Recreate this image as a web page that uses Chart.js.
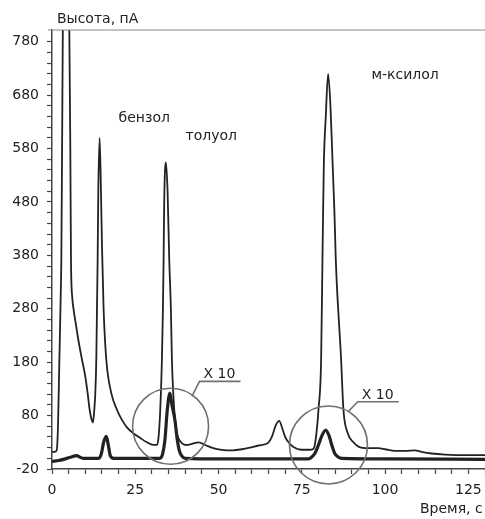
<!DOCTYPE html>
<html>
<head>
<meta charset="utf-8">
<script src="https://cdn.jsdelivr.net/npm/chart.js@4/dist/chart.umd.min.js"></script>
<style>
  html, body { margin: 0; padding: 0; background: #fff; }
  #wrap { width: 485px; height: 519px; position: relative; }
</style>
</head>
<body>
<div id="wrap"><canvas id="chrom"></canvas></div>
<script>
/* ---- data ---- */

// upper trace (normal sensitivity), time in s, signal in pA
const upperTime = [
  0, 0.8, 1.4, 1.8, 2.2, 2.6, 2.8, 3.0, 3.3, 3.8, 4.3, 4.8, 5.2, 5.5, 5.7, 6.1, 6.5, 7.2, 7.9, 9.0,
  10.0, 10.7, 11.3, 11.9, 12.3, 12.7, 13.0, 13.3, 13.5, 13.7, 13.9, 14.3, 14.7, 15.0, 15.5, 16.3, 17.8, 19.5,
  21.0, 22.5, 24.4, 26.5, 28.5, 30.4, 31.5, 32.0, 32.5, 33.0, 33.3, 33.5, 33.7, 34.2, 34.7, 35.2, 35.7, 36.0,
  36.7, 37.5, 38.5, 40.4, 42.0, 44.0, 46.0, 48.4, 51.0, 54.4, 57.0, 59.4, 62.0, 64.9, 66.0, 67.2, 68.2, 69.2,
  70.0, 70.9, 72.5, 74.9, 77.4, 78.5, 78.8, 79.4, 80.0, 80.8, 81.2, 81.6, 82.2, 82.9, 83.6, 84.2, 84.8, 85.2,
  86.8, 87.5, 88.8, 90.5, 92.0, 95.0, 98.0, 100.0, 103.0, 106.0, 109.0, 111.0, 114.0, 118.0, 125.0, 130.0
];
const upperSignal = [
  12, 12, 15, 60, 180, 300, 372, 550, 850, 1100, 1150, 1000, 800, 580, 372, 300, 278, 250, 222, 185,
  153, 122, 91, 72, 67, 91, 122, 185, 278, 372, 500, 600, 500, 400, 278, 185, 122, 91,
  72, 58, 47, 38, 30, 25, 25, 40, 91, 185, 278, 372, 485, 554, 500, 372, 278, 185,
  91, 47, 32, 25, 27, 30, 25, 19, 16, 15, 17, 20, 24, 29, 40, 62, 70, 55,
  40, 31, 21, 16, 16, 18, 22, 47, 91, 185, 372, 547, 640, 720, 660, 560, 460, 372,
  185, 91, 47, 30, 22, 19, 19, 17, 14, 14, 15, 12, 9, 7, 6, 6
];

// lower trace (x10 sensitivity)
const lowerTime = [
  0, 2, 4, 6, 7.4, 8.5, 9.5, 12.4, 14.0, 14.8, 15.5, 16.3, 16.9, 17.5, 18.5, 24, 32.4, 33.2, 33.9, 34.6,
  35.4, 36.0, 36.9, 37.5, 38.2, 38.9, 40, 50, 60, 77.0, 77.9, 79.0, 80.0, 81.0, 82.2, 83.2, 84.0, 84.9,
  86.0, 87.0, 100, 130
];
const lowerSignal = [
  -6, -4, -1, 3, 5, 2, 0, 0, 0, 8, 30, 41, 25, 5, 0, 0, 0, 8, 34, 90,
  122, 100, 72, 40, 15, 5, 0, -1, -1, -1, 2, 10, 25, 42, 53, 42, 25, 9,
  2, 0, -1, -2
];

const xTickLabels = [0, 25, 50, 75, 100, 125];
const yTickLabels = [-20, 80, 180, 280, 380, 480, 580, 680, 780];
const peakNames = ['бензол', 'толуол', 'м-ксилол'];
const gainLabel = 'X 10';

const FONT = 'DejaVu Sans';
const INK = '#222';
const AXIS = '#444';
const MARK = '#707070';

/* ---- annotation placement (data coords) ---- */
const peakLabelPos = [[27.7, 636], [47.8, 602], [106, 718]];
const circlePos = [[35.6, 60, 38], [83, 25, 39]];          // x, y, radius px
const gainPos = [
  { x: 44.3, y: 144, len: 41, tx: 42.0, ty: 116 },
  { x: 91.8, y: 106, len: 41, tx: 89.0, ty: 88 }
];

const toPoints = (xs, ys) => xs.map((x, i) => ({ x, y: ys[i] }));

const decorations = {
  id: 'decorations',
  afterDatasetsDraw(chart) {
    const { ctx, chartArea, scales: { x, y } } = chart;
    ctx.save();

    // top frame line
    ctx.strokeStyle = '#8a8a8a';
    ctx.lineWidth = 1.2;
    ctx.beginPath();
    ctx.moveTo(chartArea.left - 4, chartArea.top);
    ctx.lineTo(chartArea.right, chartArea.top);
    ctx.stroke();

    // circles around x10 peaks
    ctx.strokeStyle = MARK;
    ctx.lineWidth = 1.6;
    circlePos.forEach(([cx, cy, r]) => {
      ctx.beginPath();
      ctx.arc(x.getPixelForValue(cx), y.getPixelForValue(cy), r, 0, Math.PI * 2);
      ctx.stroke();
    });

    // "X 10" callouts
    ctx.font = `14px "${FONT}"`;
    ctx.textBaseline = 'alphabetic';
    ctx.textAlign = 'left';
    gainPos.forEach(g => {
      const px = x.getPixelForValue(g.x), py = y.getPixelForValue(g.y);
      ctx.strokeStyle = MARK;
      ctx.beginPath();
      ctx.moveTo(x.getPixelForValue(g.tx), y.getPixelForValue(g.ty));
      ctx.lineTo(px, py);
      ctx.lineTo(px + g.len, py);
      ctx.stroke();
      ctx.fillStyle = INK;
      ctx.fillText(gainLabel, px + 4, py - 3);
    });

    // peak names
    ctx.textAlign = 'center';
    ctx.textBaseline = 'middle';
    peakNames.forEach((name, i) => {
      const [lx, ly] = peakLabelPos[i];
      ctx.fillText(name, x.getPixelForValue(lx), y.getPixelForValue(ly));
    });

    // axis titles
    ctx.textAlign = 'left';
    ctx.textBaseline = 'alphabetic';
    ctx.fillText('Высота, пА', 57, 23);
    ctx.fillText('Время, с', 420, 513);

    ctx.restore();
  }
};

new Chart(document.getElementById('chrom'), {
  type: 'line',
  data: {
    datasets: [
      {
        data: toPoints(upperTime, upperSignal),
        borderColor: INK,
        borderWidth: 1.8,
        pointRadius: 0,
        cubicInterpolationMode: 'monotone'
      },
      {
        data: toPoints(lowerTime, lowerSignal),
        borderColor: INK,
        borderWidth: 3.2,
        pointRadius: 0,
        cubicInterpolationMode: 'monotone'
      }
    ]
  },
  options: {
    responsive: true,
    maintainAspectRatio: false,
    animation: false,
    layout: { padding: { top: 30, right: 0, left: 0, bottom: 0 } },
    plugins: {
      legend: { display: false },
      tooltip: { enabled: false }
    },
    scales: {
      x: {
        type: 'linear',
        min: 0,
        max: 130,
        afterBuildTicks: s => {
          const t = [];
          for (let v = 0; v <= 130; v += 5) t.push({ value: v });
          s.ticks = t;
        },
        // the axis runs off the right edge of the picture
        afterFit: s => { s.height = 50; s.paddingRight = 0; s.paddingLeft = 0; },
        ticks: {
          autoSkip: false,
          maxRotation: 0,
          padding: 8,
          color: INK,
          font: { family: FONT, size: 14 },
          callback: v => xTickLabels.includes(v) ? String(v) : ''
        },
        grid: { drawOnChartArea: false, tickLength: 5, color: AXIS, tickWidth: 1.2 },
        border: { color: AXIS, width: 1.5 }
      },
      y: {
        min: -20,
        max: 802,
        afterBuildTicks: s => {
          const t = [];
          for (let v = -20; v <= 780; v += 20) t.push({ value: v });
          s.ticks = t;
        },
        afterFit: s => { s.width = 52; },
        ticks: {
          autoSkip: false,
          padding: 8,
          color: INK,
          font: { family: FONT, size: 14 },
          callback: v => yTickLabels.includes(v) ? String(v) : ''
        },
        grid: { drawOnChartArea: false, tickLength: 5, color: AXIS, tickWidth: 1.2 },
        border: { color: AXIS, width: 1.5 }
      }
    }
  },
  plugins: [decorations]
});
</script>
</body>
</html>
